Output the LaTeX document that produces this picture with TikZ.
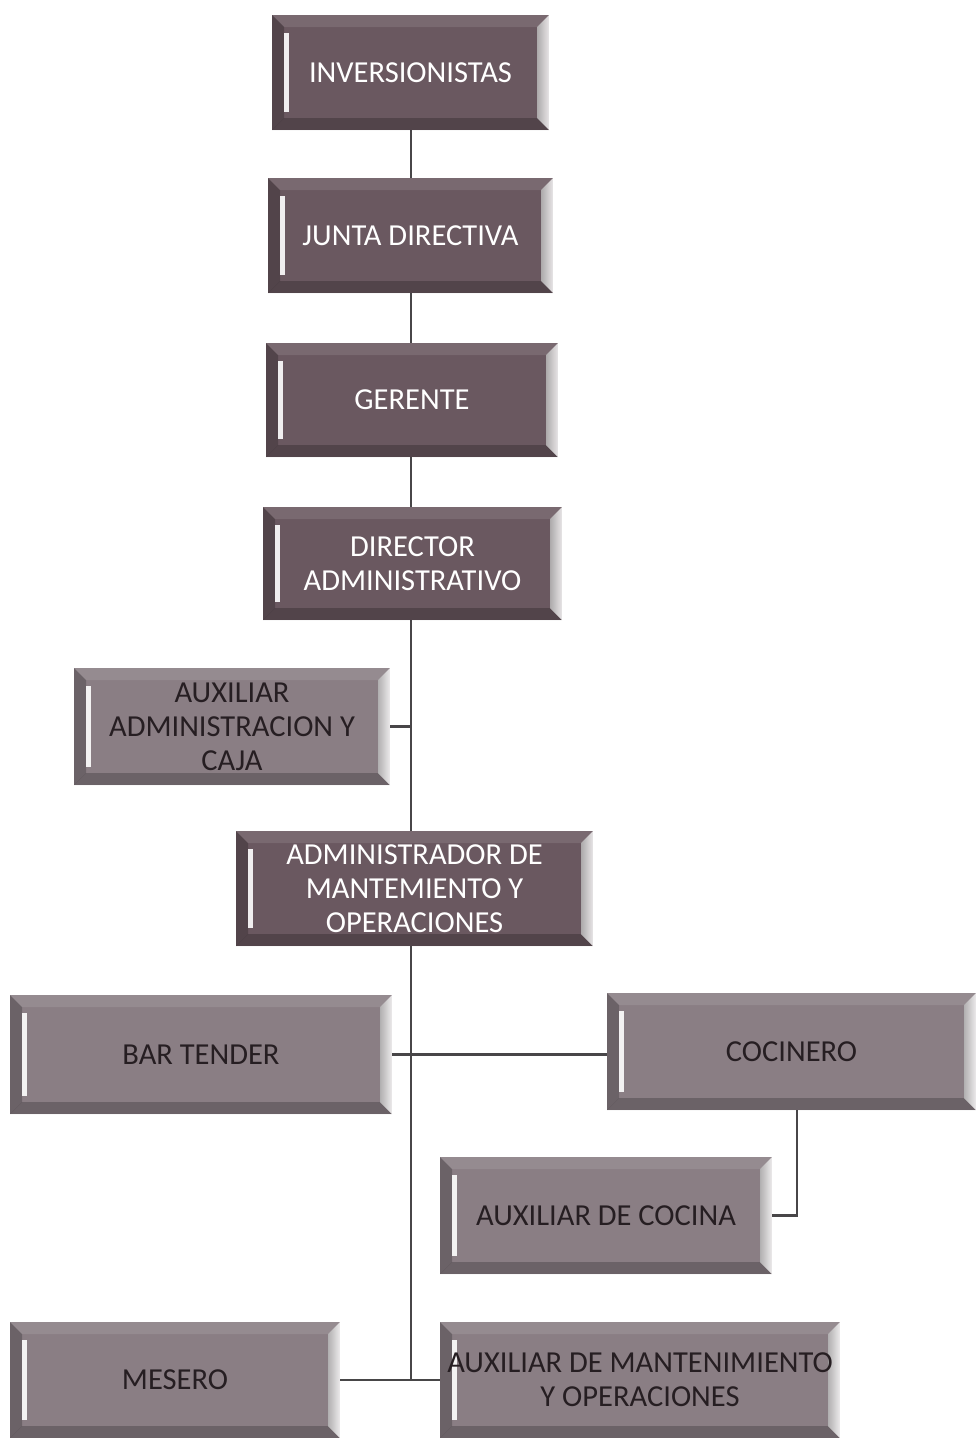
\documentclass[tikz,border=0pt]{standalone}
\usepackage{fontspec}
\setmainfont{Carlito}
\usetikzlibrary{backgrounds}
\definecolor{topc}{RGB}{106,88,96}
\definecolor{lowc}{RGB}{138,126,132}
\definecolor{darktxt}{RGB}{38,30,34}
\definecolor{linec}{RGB}{72,70,72}
\tikzset{
  box/.style={draw=none, inner sep=0pt, align=center,
    font=\fontsize{30.5}{34}\selectfont,
    path picture={
      \coordinate (nw) at (path picture bounding box.north west);
      \coordinate (ne) at (path picture bounding box.north east);
      \coordinate (sw) at (path picture bounding box.south west);
      \coordinate (se) at (path picture bounding box.south east);
      \fill[white, opacity=0.10] (nw) -- (ne) -- ([shift={(-12pt,-12pt)}]ne) -- ([shift={(12pt,-12pt)}]nw) -- cycle;
      \fill[black, opacity=0.22] (sw) -- (se) -- ([shift={(-12pt,12pt)}]se) -- ([shift={(12pt,12pt)}]sw) -- cycle;
      \fill[black, opacity=0.22] (nw) -- (sw) -- ([shift={(12pt,12pt)}]sw) -- ([shift={(12pt,-12pt)}]nw) -- cycle;
      \shade[left color=white!45!gray, right color=white, opacity=0.85] (ne) -- (se) -- ([shift={(-12pt,12pt)}]se) -- ([shift={(-12pt,-12pt)}]ne) -- cycle;
      \fill[white, opacity=0.9] ([shift={(12pt,-18pt)}]nw) rectangle ([shift={(17pt,18pt)}]sw);
    }},
  topbox/.style={box, fill=topc, text=white},
  lowbox/.style={box, fill=lowc, text=darktxt},
  conn/.style={draw=linec, line width=2.8pt}
}
\begin{document}
\begin{tikzpicture}[x=1pt, y=-1pt]
\useasboundingbox (0,0) rectangle (976,1438);
\node[topbox, minimum width=277pt, minimum height=115pt] (inv) at (410.5,72.5) {INVERSIONISTAS};
\node[topbox, minimum width=285pt, minimum height=115pt] (jun) at (410.5,235.5) {JUNTA DIRECTIVA};
\node[topbox, minimum width=292pt, minimum height=114pt] (ger) at (412,400) {GERENTE};
\node[topbox, minimum width=299pt, minimum height=113pt] (dir) at (412.5,563.5) {DIRECTOR\\ADMINISTRATIVO};
\node[lowbox, minimum width=316pt, minimum height=117pt] (aux) at (232,726.5) {AUXILIAR\\ADMINISTRACION Y\\CAJA};
\node[topbox, minimum width=357pt, minimum height=115pt] (adm) at (414.5,888.5) {ADMINISTRADOR DE\\MANTEMIENTO Y\\OPERACIONES};
\node[lowbox, minimum width=382pt, minimum height=119pt] (bar) at (201,1054.5) {BAR TENDER};
\node[lowbox, minimum width=369pt, minimum height=117pt] (coc) at (791.5,1051.5) {COCINERO};
\node[lowbox, minimum width=332pt, minimum height=117pt] (auxc) at (606,1215.5) {AUXILIAR DE COCINA};
\node[lowbox, minimum width=330pt, minimum height=116pt] (mes) at (175,1380) {MESERO};
\node[lowbox, minimum width=400pt, minimum height=116pt] (auxm) at (640,1380) {AUXILIAR DE MANTENIMIENTO\\Y OPERACIONES};
\coordinate (T) at (411,0);
\coordinate (C) at (797,0);
\begin{scope}[on background layer]
\draw[conn] (inv.south -| T) -- (adm.north -| T);
\draw[conn] (aux.east) -- (aux.east -| T);
\draw[conn] (adm.south -| T) -- (T |- mes.east);
\draw[conn] (bar.east) -- (bar.east -| coc.west);
\draw[conn] (mes.east) -- (auxm.west);
\draw[conn] (coc.south -| C) |- (auxc.east);
\end{scope}
\end{tikzpicture}
\end{document}
